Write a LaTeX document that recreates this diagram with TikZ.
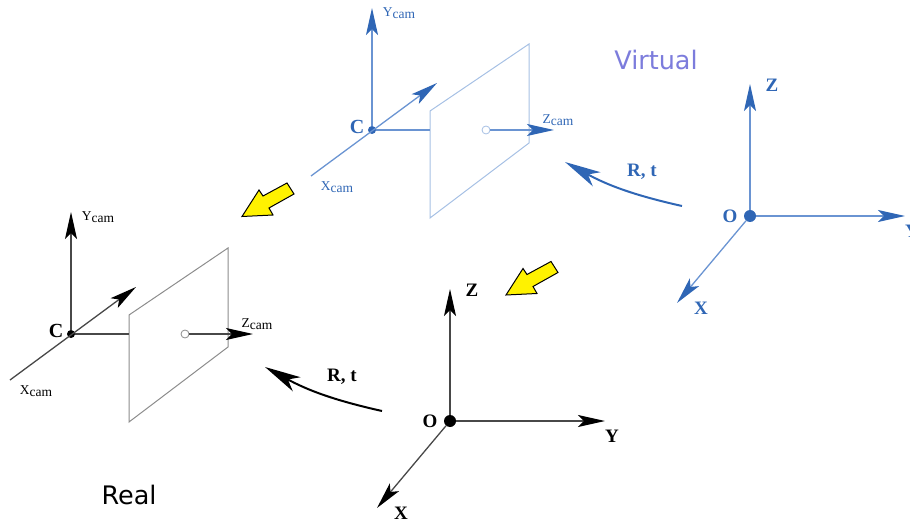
\documentclass[tikz,border=0pt]{standalone}
\usepackage{fontspec}
\usepackage{xcolor}
\setmainfont{Liberation Serif}
\newfontfamily\slidefont{DejaVu Sans}
\usetikzlibrary{arrows.meta}
\definecolor{virtblue}{HTML}{2F66B5}
\definecolor{virtline}{HTML}{6A94D2}
\definecolor{virtplane}{HTML}{A6C0E4}
\definecolor{virttext}{HTML}{7C7CDC}
\definecolor{realline}{HTML}{484848}
\definecolor{realplane}{HTML}{8C8C8C}
\newcommand{\camlabel}[1]{#1\raisebox{-2pt}{cam}}

\begin{document}
\begin{tikzpicture}[
    x=1pt, y=-1pt,
    dot/.style={circle, fill, inner sep=0pt, minimum size=#1},
    pp/.style={circle, draw, fill=white, inner sep=0pt, minimum size=8pt, line width=0.8pt},
    axis/.style={->, line width=1.3pt},
    camtext/.style={font=\fontsize{13.5}{13.5}\selectfont, inner sep=0pt},
    bigtext/.style={font=\fontsize{19}{19}\selectfont\bfseries, inner sep=0pt},
    slide/.style={font=\fontsize{25.5}{25.5}\slidefont, inner sep=0pt},
    hint/.style={fill=yellow, draw=black, line width=1pt, line join=miter}
]

  \clip (0,0) rectangle (910,521);

  % real and virtual copies of the same set-up
  \foreach \s/\ax/\ln/\pl/\cx/\cy/\wx/\wy in {real/black/realline/realplane/0/0/0/0, virt/virtblue/virtline/virtplane/301/-204/300/-205} {

    % camera
    \begin{scope}[shift={(\cx,\cy)}, color=\ax, >={Stealth[length=27pt,width=12pt,inset=6pt,color=\ax]}]
      \node[dot=8pt] (\s-C) at (71,334) {};
      \node[pp, draw=\pl] (\s-pp) at (185,334) {};
      \coordinate (\s-ytip) at (71,212);
      \coordinate (\s-xend) at (10,380);
      \coordinate (\s-xtip) at (136,287);
      \coordinate (\s-ztip) at (253,334);
      \coordinate (\s-pa) at (129,315);
      \coordinate (\s-pb) at (228,248);
      \coordinate (\s-pc) at (228,347);
      \coordinate (\s-pd) at (129,422);
      \coordinate (\s-pm) at (129,334);

      % image plane
      \draw[\pl, line width=1pt] (\s-pa) -- (\s-pb) -- (\s-pc) -- (\s-pd) -- cycle;

      \draw[axis, draw=\ln] (\s-C) -- (\s-ytip);
      \draw[axis, draw=\ln] (\s-xend) -- (\s-xtip);
      \draw[draw=\ln, line width=1.3pt] (\s-C) -- (\s-pm);
      \draw[axis, draw=\ln] (\s-pp) -- (\s-ztip);

      % camera labels
      \node[bigtext, font=\fontsize{20}{20}\selectfont\bfseries] (\s-Clab) at (56,331) {C};
      \node[camtext] (\s-Ylab) at (98,217) {\camlabel{Y}};
      \node[camtext] (\s-Zlab) at (257,324) {\camlabel{Z}};
      \node[camtext] (\s-Xlab) at (36,391) {\camlabel{X}};
    \end{scope}

    % world
    \begin{scope}[shift={(\wx,\wy)}, color=\ax, >={Stealth[length=27pt,width=12pt,inset=6pt,color=\ax]}]
      \node[dot=12pt] (\s-O) at (450,421) {};
      \coordinate (\s-Ztip) at (450,289);
      \coordinate (\s-Ytip) at (605,421);
      \coordinate (\s-Xtip) at (377,508);
      \coordinate (\s-rta) at (382,411);
      \coordinate (\s-rtb) at (265,367);

      \draw[axis, draw=\ln] (\s-O) -- (\s-Ztip);
      \draw[axis, draw=\ln] (\s-O) -- (\s-Ytip);
      \draw[axis, draw=\ln] (\s-O) -- (\s-Xtip);
      \draw[-{Stealth[length=36pt,width=16pt,inset=10pt,color=\ax]}, draw=\ax, line width=2pt] (\s-rta) to[bend left=8] (\s-rtb);

      % world labels
      \node[bigtext] (\s-Olab) at (430,421) {O};
      \node[bigtext] (\s-Zlab2) at (472,290) {Z};
      \node[bigtext] (\s-Ylab2) at (612,436) {Y};
      \node[bigtext] (\s-Xlab2) at (401,513) {X};
      \node[bigtext] (\s-rtlab) at (342,377) {R, t};
    \end{scope}
  }

  % yellow arrows
  \foreach \i/\dx/\dy in {1/0/0, 2/264/78.5} {
    \draw[hint, shift={(\dx,\dy)}] (242,216.5) -- (259,190) -- (263,196) -- (287,183)
      -- (294,194) -- (269,208) -- (273,215) -- cycle;
  }

  % captions
  \node[slide] (real-cap) at (129,495) {Real};
  \node[slide, text=virttext] (virt-cap) at (656,60) {Virtual};

\end{tikzpicture}
\end{document}
